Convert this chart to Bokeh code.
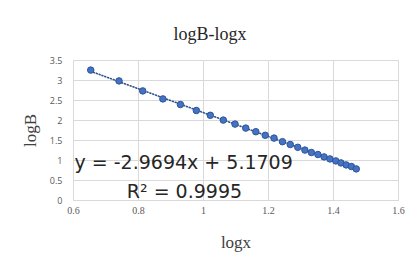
import numpy as np
from bokeh.plotting import figure
from bokeh.models import FixedTicker, Range1d
from bokeh.core.properties import value
from bokeh.embed import file_html
from bokeh.resources import INLINE

# data
log_x = [0.653, 0.740, 0.813, 0.875, 0.929, 0.978, 1.021, 1.061, 1.097, 1.130,
         1.161, 1.190, 1.217, 1.243, 1.267, 1.290, 1.312, 1.332, 1.352, 1.371,
         1.389, 1.407, 1.423, 1.439, 1.455, 1.470]
log_B = [3.26, 2.99, 2.74, 2.54, 2.40, 2.25, 2.13, 2.01, 1.91, 1.81,
         1.72, 1.63, 1.56, 1.47, 1.40, 1.33, 1.26, 1.20, 1.15, 1.09,
         1.04, 0.99, 0.94, 0.89, 0.85, 0.79]

x_ticks = [0.6, 0.8, 1.0, 1.2, 1.4, 1.6]
x_tick_labels = ["0.6", "0.8", "1", "1.2", "1.4", "1.6"]
y_ticks = [0, 0.5, 1, 1.5, 2, 2.5, 3, 3.5]
y_tick_labels = ["0", "0.5", "1", "1.5", "2", "2.5", "3", "3.5"]

eq_text = ["y = -2.9694x + 5.1709"]
eq_x = [0.603]
eq_y = [0.96]
r2_text = ["R\u00b2 = 0.9995"]
r2_x = [0.764]
r2_y = [0.245]

title_text = "logB-logx"
x_title = "logx"
y_title = "logB"

p = figure(width=406, height=257, output_backend="svg", toolbar_location=None,
           x_range=Range1d(0.6, 1.6), y_range=Range1d(0, 3.5),
           min_border_left=73, min_border_right=8, min_border_top=60,
           min_border_bottom=57, title=title_text)

p.title.align = "left"
p.title.text_font = "Liberation Serif"
p.title.text_font_size = "18px"
p.title.text_font_style = "normal"
p.title.text_color = "#262626"
p.title.standoff = 34
p.title.offset = 100

p.outline_line_color = "#d9d9d9"
p.background_fill_color = "white"
p.border_fill_color = "white"

p.xaxis.ticker = FixedTicker(ticks=x_ticks)
p.yaxis.ticker = FixedTicker(ticks=y_ticks)
p.xaxis.major_label_overrides = {t: l for t, l in zip(x_ticks, x_tick_labels)}
p.yaxis.major_label_overrides = {t: l for t, l in zip(y_ticks, y_tick_labels)}

for ax in (p.xaxis, p.yaxis):
    ax.major_tick_line_color = None
    ax.minor_tick_line_color = None
    ax.major_tick_out = 0
    ax.major_tick_in = 0
    ax.minor_tick_out = 0
    ax.minor_tick_in = 0
    ax.axis_line_color = None
    ax.major_label_text_color = "#595959"
    ax.axis_label_text_color = "#404040"
    ax.axis_label_text_font = "Liberation Serif"
    ax.axis_label_text_font_size = "17px"
    ax.axis_label_text_font_style = "normal"

p.xaxis.axis_line_color = "#d9d9d9"
p.xaxis.major_label_text_font = "Liberation Serif"
p.xaxis.major_label_text_font_size = "10px"
p.xaxis.major_label_standoff = 6
p.xaxis.axis_label = x_title
p.xaxis.axis_label_standoff = 16

p.yaxis.major_label_text_font = "Open Sans"
p.yaxis.major_label_text_font_size = "9px"
p.yaxis.major_label_standoff = 11
p.yaxis.axis_label = y_title
p.yaxis.axis_label_standoff = 7

p.xgrid.ticker = FixedTicker(ticks=x_ticks)
p.ygrid.ticker = FixedTicker(ticks=y_ticks)
p.grid.grid_line_color = "#d9d9d9"
p.grid.grid_line_width = 1

# linear trendline from the data
k, b = np.polyfit(log_x, log_B, 1)
tx = [log_x[0], log_x[-1]]
ty = [k * v + b for v in tx]
p.line(tx, ty, line_color="#2f528f", line_width=1.6, line_dash="1 2", line_cap="round")

p.scatter(log_x, log_B, size=6.5, fill_color="#4472c4", line_color="#2f5597", line_width=1)

p.text(x=eq_x, y=eq_y, text=eq_text, text_font=value("DejaVu Sans"),
       text_font_size="19px", text_color="#262626", text_baseline="alphabetic")
p.text(x=r2_x, y=r2_y, text=r2_text, text_font=value("DejaVu Sans"),
       text_font_size="19px", text_color="#262626", text_baseline="alphabetic")

open("out.html", "w").write(file_html(p, INLINE))
